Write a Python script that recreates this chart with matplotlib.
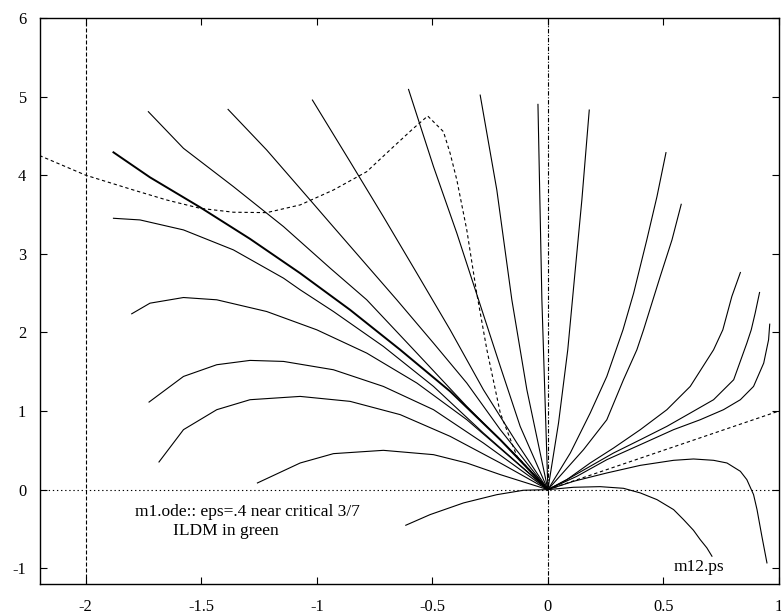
import matplotlib
matplotlib.use("Agg")
import matplotlib.pyplot as plt

plt.rcParams['font.family'] = ['Liberation Serif', 'DejaVu Serif']
plt.rcParams['axes.unicode_minus'] = False

# trajectories of m1.ode, each ends at the fixed point (0, 0)
thick_x = [-1.880, -1.722, -1.505, -1.289, -1.072, -0.856, -0.639, -0.423, -0.206, 0.0]
thick_y = [4.291, 3.973, 3.592, 3.190, 2.753, 2.287, 1.779, 1.250, 0.635, 0.0]

left_curves = [
    # from the upper left
    ([-1.729, -1.577, -1.361, -1.144, -0.942, -0.784, -0.567, -0.351, -0.134, 0.0],
     [4.808, 4.342, 3.855, 3.346, 2.817, 2.415, 1.737, 1.059, 0.424, 0.0]),
    ([-1.384, -1.217, -1.029, -0.942, -0.798, -0.654, -0.495, -0.351, -0.206, 0.0],
     [4.837, 4.321, 3.685, 3.389, 2.902, 2.415, 1.864, 1.356, 0.763, 0.0]),
    ([-1.019, -0.856, -0.712, -0.567, -0.423, -0.279, -0.134, 0.0],
     [4.956, 4.172, 3.473, 2.753, 2.033, 1.271, 0.593, 0.0]),
    ([-0.603, -0.495, -0.394, -0.300, -0.206, -0.120, 0.0],
     [5.091, 4.109, 3.262, 2.415, 1.567, 0.805, 0.0]),
    ([-0.293, -0.221, -0.156, -0.091, 0.0],
     [5.019, 3.812, 2.415, 1.271, 0.0]),
    ([-0.043, -0.026, 0.0],
     [4.901, 2.415, 0.0]),
    # humped ones lower down
    ([-1.880, -1.765, -1.577, -1.361, -1.144, -1.072, -0.928, -0.712, -0.495, -0.279, 0.0],
     [3.452, 3.431, 3.304, 3.050, 2.690, 2.542, 2.266, 1.822, 1.313, 0.720, 0.0]),
    ([-1.801, -1.722, -1.577, -1.433, -1.217, -1.000, -0.784, -0.567, -0.351, -0.134, 0.0],
     [2.237, 2.372, 2.444, 2.415, 2.266, 2.033, 1.737, 1.356, 0.890, 0.339, 0.0]),
    ([-1.726, -1.577, -1.433, -1.289, -1.144, -0.928, -0.712, -0.495, -0.279, 0.0],
     [1.114, 1.440, 1.589, 1.644, 1.631, 1.525, 1.313, 1.017, 0.593, 0.0]),
    ([-1.683, -1.577, -1.433, -1.289, -1.072, -0.856, -0.639, -0.423, -0.206, 0.0],
     [0.352, 0.763, 1.017, 1.144, 1.186, 1.123, 0.954, 0.678, 0.339, 0.0]),
    ([-1.257, -1.072, -0.928, -0.712, -0.495, -0.351, -0.206, 0.0],
     [0.085, 0.339, 0.458, 0.500, 0.445, 0.339, 0.191, 0.0]),
]

right_curves = [
    ([0.179, 0.147, 0.117, 0.086, 0.046, 0.0],
     [4.829, 3.685, 2.753, 1.779, 0.847, 0.0]),
    ([0.511, 0.472, 0.428, 0.371, 0.325, 0.255, 0.183, 0.097, 0.0],
     [4.287, 3.728, 3.177, 2.499, 2.033, 1.440, 0.974, 0.466, 0.0]),
    ([0.577, 0.537, 0.486, 0.414, 0.385, 0.327, 0.255, 0.154, 0.0],
     [3.630, 3.177, 2.711, 2.033, 1.779, 1.398, 0.889, 0.508, 0.0]),
    ([0.833, 0.796, 0.757, 0.717, 0.616, 0.515, 0.400, 0.284, 0.183, 0.082, 0.0],
     [2.762, 2.457, 2.033, 1.779, 1.313, 1.017, 0.763, 0.529, 0.339, 0.127, 0.0]),
    ([0.916, 0.897, 0.880, 0.861, 0.804, 0.717, 0.616, 0.515, 0.400, 0.284, 0.183, 0.082, 0.0],
     [2.508, 2.245, 2.033, 1.864, 1.398, 1.144, 0.974, 0.805, 0.635, 0.466, 0.297, 0.127, 0.0]),
    ([0.960, 0.955, 0.934, 0.890, 0.833, 0.760, 0.659, 0.544, 0.400, 0.255, 0.125, 0.0],
     [2.105, 1.906, 1.610, 1.313, 1.144, 1.017, 0.889, 0.763, 0.572, 0.381, 0.169, 0.0]),
    ([0.0, 0.111, 0.255, 0.400, 0.544, 0.630, 0.717, 0.775, 0.833, 0.861, 0.890, 0.905, 0.926, 0.948],
     [0.0, 0.106, 0.212, 0.309, 0.373, 0.390, 0.373, 0.339, 0.233, 0.127, -0.063, -0.254, -0.593, -0.932]),
    ([-0.615, -0.510, -0.365, -0.221, -0.106, 0.0, 0.111, 0.226, 0.327, 0.400, 0.472,
      0.544, 0.587, 0.630, 0.659, 0.688, 0.710],
     [-0.453, -0.318, -0.169, -0.064, -0.008, 0.0, 0.030, 0.038, 0.017, -0.042, -0.127,
      -0.254, -0.381, -0.517, -0.635, -0.741, -0.847]),
]

# ILDM branches
ildm_x = [-2.2, -2.0, -1.794, -1.650, -1.505, -1.361, -1.217, -1.072, -0.928, -0.784,
          -0.668, -0.582, -0.520, -0.452, -0.423, -0.394, -0.351, -0.308, -0.264,
          -0.206, -0.134, 0.0]
ildm_y = [4.25, 4.0, 3.812, 3.685, 3.579, 3.529, 3.524, 3.622, 3.812, 4.045,
          4.363, 4.596, 4.753, 4.554, 4.278, 3.939, 3.304, 2.499, 1.779,
          0.974, 0.424, 0.0]
ildm2_x = [0.0, 1.0]
ildm2_y = [0.0, 1.0]

xticks = [-2, -1.5, -1, -0.5, 0, 0.5, 1]
xlabels = ['-2', '-1.5', '-1', '-0.5', '0', '0.5', '1']
yticks = [-1, 0, 1, 2, 3, 4, 5, 6]

fig = plt.figure(figsize=(7.81, 6.16), dpi=100)
ax = fig.add_axes([0.0506, 0.052, 0.9468, 0.9188])
ax.set_xlim(-2.2, 1)
ax.set_ylim(-1.2, 6)

lw = 0.8
# zero axes and the x = -2 line
ax.axhline(0, color='black', lw=lw, dashes=(1.2, 2.5))
ax.axvline(0, color='black', lw=lw, dashes=(4, 1.5, 1, 1.5))
ax.axvline(-2, color='black', lw=lw, dashes=(3.6, 1.8))

ax.plot(thick_x, thick_y, color='black', lw=1.4)
for xs, ys in left_curves + right_curves:
    ax.plot(xs, ys, color='black', lw=lw)

ax.plot(ildm_x, ildm_y, color='black', lw=lw, dashes=(3, 2.5))
ax.plot(ildm2_x, ildm2_y, color='black', lw=lw, dashes=(3, 2.5))

ax.text(-1.787, -0.339, 'm1.ode:: eps=.4 near critical 3/7', fontsize=12.5)
ax.text(-1.622, -0.572, 'ILDM in green', fontsize=12.5)
ax.text(0.544, -1.04, 'm12.ps', fontsize=12.5)

ax.set_xticks(xticks)
ax.set_xticklabels(xlabels)
ax.set_yticks(yticks)
ax.tick_params(direction='in', length=5, width=0.8, top=True, right=True,
               labelsize=11.8)
ax.tick_params(axis='x', pad=10.5)
ax.tick_params(axis='y', pad=9.5)
for s in ax.spines.values():
    s.set_linewidth(1.0)

fig.savefig('out.png', dpi=100)
